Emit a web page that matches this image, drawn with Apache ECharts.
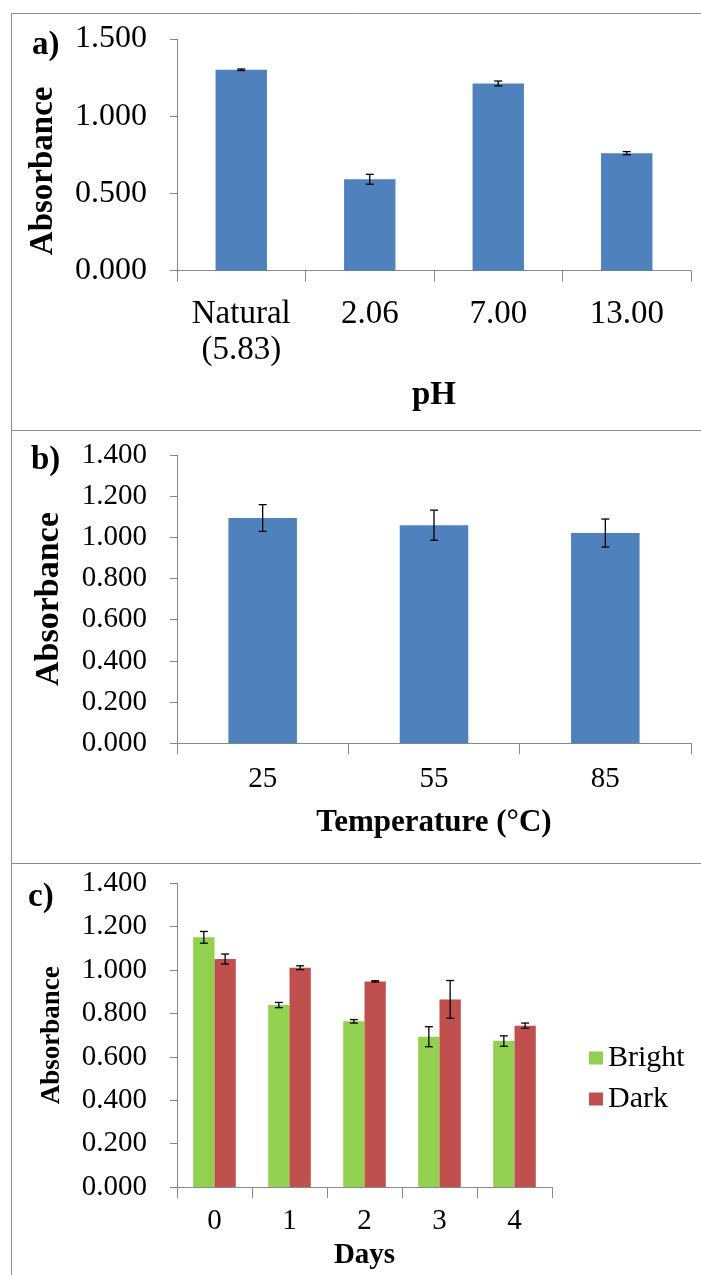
<!DOCTYPE html>
<html>
<head>
<meta charset="utf-8">
<script src="https://cdn.jsdelivr.net/npm/echarts@6/dist/echarts.min.js"></script>
<style>
  html, body { margin: 0; padding: 0; background: #fff; }
  #main { width: 701px; height: 1275px; }
</style>
</head>
<body>
<div id="main"></div>
<script>
// a) pH
var phCats = ['Natural\n(5.83)', '2.06', '7.00', '13.00'];
var phVals = [1.301, 0.592, 1.212, 0.761];
var phErr = [0.005, 0.032, 0.016, 0.010];

// b) temperature
var tempCats = ['25', '55', '85'];
var tempVals = [1.094, 1.059, 1.021];
var tempErr = [0.065, 0.073, 0.068];

// c) days, bright / dark
var dayCats = ['0', '1', '2', '3', '4'];
var brightVals = [1.151, 0.839, 0.764, 0.693, 0.673];
var brightErr = [0.027, 0.012, 0.008, 0.046, 0.024];
var darkVals = [1.051, 1.011, 0.948, 0.865, 0.744];
var darkErr = [0.023, 0.009, 0.003, 0.087, 0.012];

var serif = "'Liberation Serif', 'Times New Roman', serif";
var axisGray = '#898989';
var blue = '#4f81bd', green = '#92d050', red = '#c0504d';

// error bar data rows: [index, value, err]
function errRows(vals, errs) {
    return vals.map(function (v, i) { return [i, v, errs[i]]; });
}

// draws the whisker, shift = offset of bar centre in bar widths
function errorBar(barPct, shift) {
    return function (params, api) {
        var i = api.value(0), v = api.value(1), e = api.value(2);
        var band = api.size([1, 0])[0];
        var dx = band * barPct * shift;
        var hi = api.coord([i, v + e]);
        var lo = api.coord([i, v - e]);
        var x = hi[0] + dx, cap = 4;
        var st = { stroke: '#000', lineWidth: 1.3 };
        return {
            type: 'group',
            children: [
                { type: 'line', shape: { x1: x, y1: hi[1], x2: x, y2: lo[1] }, style: st },
                { type: 'line', shape: { x1: x - cap, y1: hi[1], x2: x + cap, y2: hi[1] }, style: st },
                { type: 'line', shape: { x1: x - cap, y1: lo[1], x2: x + cap, y2: lo[1] }, style: st }
            ]
        };
    };
}

function yAxisOf(gi, max, step, fs, name, nameFs, gap, pad) {
    return {
        gridIndex: gi, type: 'value', min: 0, max: max, interval: step,
        splitLine: { show: false },
        axisLine: { show: true, lineStyle: { color: axisGray } },
        axisTick: { show: true, length: 7, lineStyle: { color: axisGray } },
        axisLabel: {
            margin: 30, fontFamily: serif, fontSize: fs, color: '#000',
            formatter: function (v) { return v.toFixed(3); }
        },
        name: name, nameLocation: 'middle', nameRotate: 90, nameGap: gap,
        nameTextStyle: { fontFamily: serif, fontWeight: 'bold', fontSize: nameFs, color: '#000', padding: pad }
    };
}

function xAxisOf(gi, cats, fs, lh, margin, name, nameFs, gap) {
    return {
        gridIndex: gi, type: 'category', data: cats,
        axisLine: { lineStyle: { color: axisGray } },
        axisTick: { show: true, length: 11, lineStyle: { color: axisGray } },
        axisLabel: { margin: margin, fontFamily: serif, fontSize: fs, color: '#000', lineHeight: lh, interval: 0 },
        name: name, nameLocation: 'middle', nameGap: gap,
        nameTextStyle: { fontFamily: serif, fontWeight: 'bold', fontSize: nameFs, color: '#000' }
    };
}

var chart = echarts.init(document.getElementById('main'));

var option = {
    animation: false,
    backgroundColor: '#fff',
    title: [
        { text: 'a)', left: 27, top: 24, textStyle: { fontFamily: serif, fontWeight: 'bold', fontSize: 33, color: '#000' } },
        { text: 'b)', left: 26, top: 439, textStyle: { fontFamily: serif, fontWeight: 'bold', fontSize: 33, color: '#000' } },
        { text: 'c)', left: 23, top: 876, textStyle: { fontFamily: serif, fontWeight: 'bold', fontSize: 33, color: '#000' } }
    ],
    graphic: [
        { type: 'rect', shape: { x: 11.5, y: 13.5, width: 700, height: 417 }, style: { fill: 'none', stroke: '#8c8c8c', lineWidth: 1 } },
        { type: 'rect', shape: { x: 11.5, y: 430.5, width: 700, height: 433 }, style: { fill: 'none', stroke: '#8c8c8c', lineWidth: 1 } },
        { type: 'rect', shape: { x: 11.5, y: 863.5, width: 700, height: 420 }, style: { fill: 'none', stroke: '#8c8c8c', lineWidth: 1 } }
    ],
    legend: {
        orient: 'vertical', left: 584, top: 1038, itemGap: 11,
        itemWidth: 14, itemHeight: 13, icon: 'rect',
        data: ['Bright', 'Dark'],
        textStyle: { fontFamily: serif, fontSize: 30, color: '#000' }
    },
    grid: [
        { left: 177, top: 39, width: 514, height: 231.7 },
        { left: 177, top: 455, width: 514, height: 288.3 },
        { left: 177, top: 883.3, width: 375, height: 303.8 }
    ],
    xAxis: [
        xAxisOf(0, phCats, 33, 36, 26, 'pH', 33, 108),
        xAxisOf(1, tempCats, 29, 30, 21, 'Temperature (°C)', 31, 64),
        xAxisOf(2, dayCats, 29, 30, 19, 'Days', 29, 54)
    ],
    yAxis: [
        yAxisOf(0, 1.5, 0.5, 32, 'Absorbance', 33, 117, [0, 32, 0, 0]),
        yAxisOf(1, 1.4, 0.2, 29, 'Absorbance', 34, 111, 0),
        yAxisOf(2, 1.4, 0.2, 29, 'Absorbance', 27, 111, 0)
    ],
    series: [
        { type: 'bar', xAxisIndex: 0, yAxisIndex: 0, data: phVals, barWidth: '40%', itemStyle: { color: blue } },
        { type: 'custom', xAxisIndex: 0, yAxisIndex: 0, data: errRows(phVals, phErr), renderItem: errorBar(0.4, 0), z: 5 },

        { type: 'bar', xAxisIndex: 1, yAxisIndex: 1, data: tempVals, barWidth: '40%', itemStyle: { color: blue } },
        { type: 'custom', xAxisIndex: 1, yAxisIndex: 1, data: errRows(tempVals, tempErr), renderItem: errorBar(0.4, 0), z: 5 },

        { name: 'Bright', type: 'bar', xAxisIndex: 2, yAxisIndex: 2, data: brightVals, barWidth: '28.4%', barGap: '0%', itemStyle: { color: green } },
        { name: 'Dark', type: 'bar', xAxisIndex: 2, yAxisIndex: 2, data: darkVals, barWidth: '28.4%', barGap: '0%', itemStyle: { color: red } },
        { type: 'custom', xAxisIndex: 2, yAxisIndex: 2, data: errRows(brightVals, brightErr), renderItem: errorBar(0.284, -0.5), z: 5 },
        { type: 'custom', xAxisIndex: 2, yAxisIndex: 2, data: errRows(darkVals, darkErr), renderItem: errorBar(0.284, 0.5), z: 5 }
    ]
};

chart.setOption(option);
</script>
</body>
</html>
